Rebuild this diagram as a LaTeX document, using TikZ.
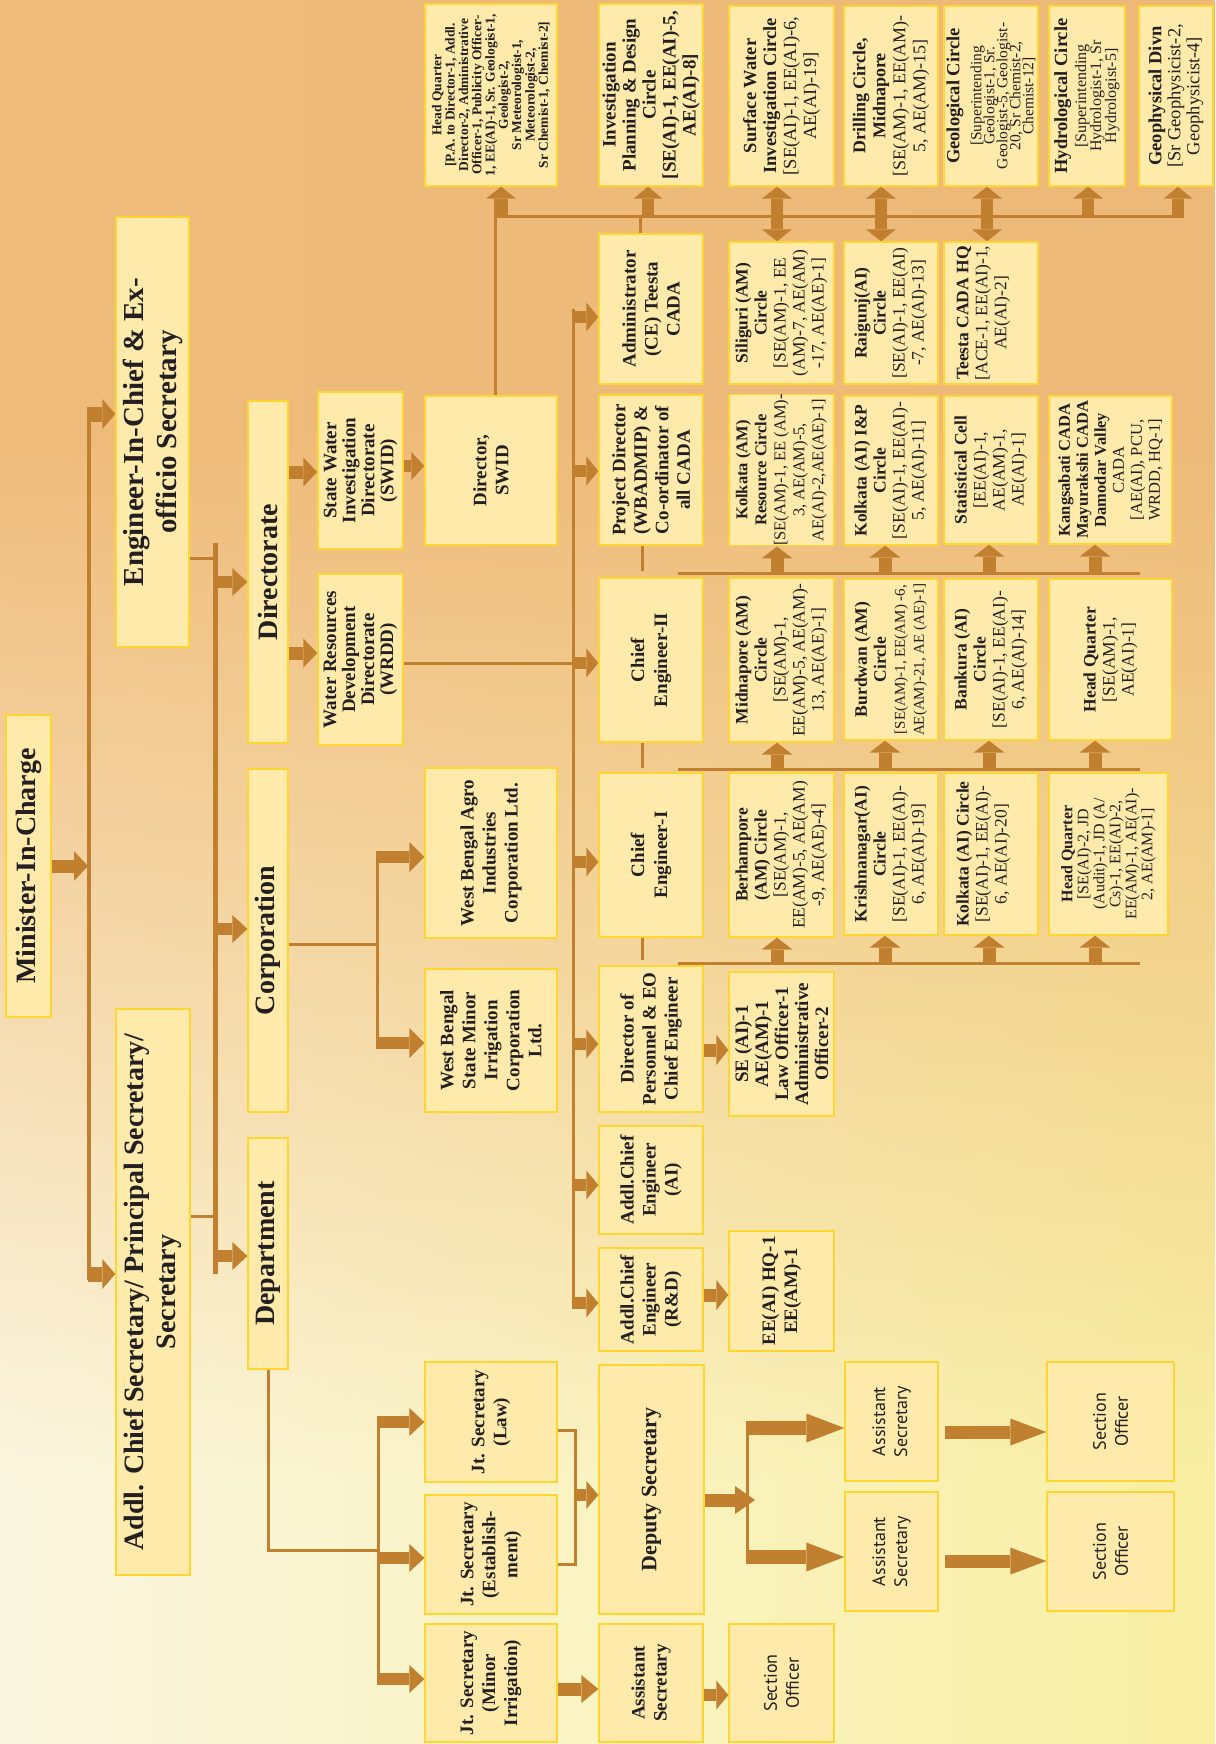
\documentclass[tikz,border=0pt]{standalone}
\usepackage{fontspec}
\setmainfont{Liberation Serif}
\newfontfamily\ptsans{PT Sans}
\usetikzlibrary{arrows.meta,shadings}
\definecolor{bgTL}{RGB}{239,187,122}
\definecolor{bgTR}{RGB}{237,185,120}
\definecolor{bgBL}{RGB}{251,246,224}
\definecolor{bgBR}{RGB}{248,239,162}
\definecolor{boxc}{RGB}{254,234,170}
\definecolor{bord}{RGB}{253,214,50}
\definecolor{arr}{RGB}{193,127,48}
\definecolor{txt}{RGB}{35,31,32}
\newcommand\tb[1]{\textbf{#1}}
\newcommand\fs[2]{{\fontsize{#1}{#1}\selectfont #2}}
\newcommand\bx[7][]{\node[obox,#1,minimum width={#5pt-#3pt},minimum height={#4pt-#2pt}] (#6) at ({(#2+#4)/2},{(#3+#5)/2}) {#7};}
\begin{document}
\lineskiplimit=-100pt
\begin{tikzpicture}[x=1pt,y=-1pt,
  obox/.style={draw=bord, fill=boxc, line width=1.3pt, rotate=90, inner sep=0pt, align=center, text=txt},
  fbig/.style={font=\fontsize{28}{32}\selectfont\bfseries},
  fmed/.style={font=\fontsize{19}{22}\selectfont\bfseries},
  fcirc/.style={font=\fontsize{17.5}{19}\selectfont},
  fsans/.style={font=\ptsans\fontsize{18}{22}\selectfont},
  cline/.style={draw=arr, line width=3pt},
  barrow/.style n args={3}{draw=arr, line width=#1, arrows={-Triangle[width=#2,length=#3,line width=0pt]}},
  darrow/.style n args={3}{draw=arr, line width=#1, arrows={Triangle[width=#2,length=#3,line width=0pt]-Triangle[width=#2,length=#3,line width=0pt]}},
]
\useasboundingbox (0,0) rectangle (1215,1744);
% background
\shade[left color=bgTL, right color=bgTR] (0,0) rectangle (1215,430);
\shade[upper left=bgTL, upper right=bgTR, lower left=bgBL, lower right=bgBR] (0,430) rectangle (1215,1480);
\shade[left color=bgBL, right color=bgBR] (0,1480) rectangle (1215,1744);

% ---------- top levels
\bx[fbig]{6}{715}{51}{1017}{min}{Minister-In-Charge}
\bx[fbig,font=\fontsize{29}{33}\selectfont\bfseries]{116}{217}{189}{647}{eic}{Engineer-In-Chief \& Ex-\\officio Secretary}
\bx[fbig]{116}{1009}{190}{1575}{acs}{Addl. Chief Secretary/ Principal Secretary/\\Secretary}
\bx[fbig]{248}{401}{288}{743}{dte}{Directorate}
\bx[fbig]{248}{769}{288}{1112}{corp}{Corporation}
\bx[fbig]{248}{1138}{288}{1369}{dept}{Department}

% ---------- second level
\bx[fmed,font=\fontsize{19}{19}\selectfont\bfseries]{318}{392}{403}{549}{swid}{State Water\\Investigation\\Directorate\\(SWID)}
\bx[fmed,font=\fontsize{19}{19}\selectfont\bfseries]{318}{574}{403}{745}{wrdd}{Water Resources\\Development\\Directorate\\(WRDD)}
\bx[fmed]{425}{396}{557}{545}{dswid}{Director,\\SWID}
\bx[fmed]{425}{768}{557}{938}{agro}{West Bengal Agro\\Industries\\Corporation Ltd.}
\bx[fmed]{425}{969}{557}{1112}{smi}{West Bengal\\State Minor\\Irrigation\\Corporation\\Ltd.}
\bx[fmed]{425}{1362}{557}{1482}{jlaw}{Jt. Secretary\\(Law)}
\bx[fmed]{425}{1495}{557}{1614}{jest}{Jt. Secretary\\(Establish-\\ment)}
\bx[fmed]{425}{1624}{557}{1742}{jmi}{Jt. Secretary\\(Minor\\Irrigation)}

% ---------- top row
\bx[font=\fontsize{13.5}{13.3}\selectfont\bfseries]{425}{4}{557}{186}{hq}{Head Quarter\\{[}P.A. to Director-1, Addl.\\Director-2, Administrative\\Officer-1, Publicity Officer-\\1, EE(AI)-1, Sr. Geologist-1,\\Geologist-2,\\Sr Meteorologist-1,\\Meteorologist-2,\\Sr Chemist-1, Chemist-2{]}}
\bx[fmed,font=\fontsize{19}{20}\selectfont\bfseries]{599}{4}{703}{186}{ipd}{Investigation\\Planning \& Design\\Circle\\{[}SE(AI)-1, EE(AI)-5,\\AE(AI)-8{]}}
\bx[fcirc,font=\fontsize{18.5}{20}\selectfont]{729}{6}{834}{186}{swic}{\tb{Surface Water}\\\tb{Investigation Circle}\\{[}SE(AI)-1, EE(AI)-6,\\AE(AI)-19{]}}
\bx[fcirc,font=\fontsize{18}{20}\selectfont]{844}{6}{938}{186}{drl}{\tb{Drilling Circle,}\\\tb{Midnapore}\\{[}SE(AM)-1, EE(AM)-\\5, AE(AM)-15{]}}
\bx[fcirc,font=\fontsize{15.5}{13}\selectfont]{944}{6}{1038}{186}{geo}{\fs{18.5}{\tb{Geological Circle}}\\[9pt]{[}Superintending\\Geologist-1, Sr.\\Geologist-5, Geologist-\\20, Sr Chemist-2,\\Chemist-12{]}}
\bx[fcirc,font=\fontsize{16}{15}\selectfont]{1049}{6}{1125}{186}{hyd}{\fs{18.5}{\tb{Hydrological Circle}}\\[4pt]{[}Superintending\\Hydrologist-1, Sr\\Hydrologist-5{]}}
\bx[fcirc,font=\fontsize{18.5}{19}\selectfont]{1139}{6}{1213}{186}{gph}{\tb{Geophysical Divn}\\{[}Sr Geophysicist-2,\\Geophysicist-4{]}}

% ---------- second row
\bx[fmed]{599}{234}{703}{384}{adm}{Administrator\\(CE) Teesta\\CADA}
\bx[fcirc]{729}{242}{834}{384}{sil}{\tb{Siliguri (AM)}\\\tb{Circle}\\{[}SE(AM)-1, EE\\(AM)-7, AE(AM)\\-17, AE(AE)-1{]}}
\bx[fcirc]{844}{242}{938}{384}{rai}{\tb{Raigunj(AI)}\\\tb{Circle}\\{[}SE(AI)-1, EE(AI)\\-7, AE(AI)-13{]}}
\bx[fcirc]{944}{242}{1038}{384}{tch}{\tb{Teesta CADA HQ}\\{[}ACE-1, EE(AI)-1,\\AE(AI)-2{]}\\{}}

% ---------- third row
\bx[fmed,font=\fontsize{19}{21.5}\selectfont\bfseries]{599}{395}{703}{545}{pd}{Project Director\\(WBADMIP) \&\\Co-ordinator of\\all CADA}
\bx[fcirc,font=\fontsize{16.5}{19}\selectfont]{729}{395}{834}{545}{kam}{\tb{Kolkata (AM)}\\\tb{Resource Circle}\\{[}SE(AM)-1, EE (AM)-\\3, AE(AM)-5,\\AE(AI)-2,AE(AE)-1{]}}
\bx[fcirc]{844}{396}{938}{545}{kai}{\tb{Kolkata (AI) I\&P}\\\tb{Circle}\\{[}SE(AI)-1, EE(AI)-\\5, AE(AI)-11{]}}
\bx[fcirc]{944}{396}{1038}{544}{stat}{\tb{Statistical Cell}\\{[}EE(AI)-1,\\AE(AM)-1,\\AE(AI)-1{]}}
\bx[fcirc,font=\fontsize{16.5}{18}\selectfont]{1049}{396}{1172}{544}{kmd}{\tb{Kangsabati CADA}\\\tb{Mayurakshi CADA}\\\tb{Damodar Valley}\\CADA\\{[}AE(AI), PCU,\\WRDD, HQ-1{]}}

% ---------- fourth row
\bx[fmed,font=\fontsize{19}{23}\selectfont\bfseries]{599}{578}{703}{742}{ce2}{Chief\\Engineer-II}
\bx[fcirc]{729}{578}{834}{742}{mid}{\tb{Midnapore (AM)}\\\tb{Circle}\\{[}SE(AM)-1,\\EE(AM)-5, AE(AM)-\\13, AE(AE)-1{]}}
\bx[fcirc]{844}{579}{938}{740}{bur}{\tb{Burdwan (AM)}\\\tb{Circle}\\\fs{15}{{[}SE(AM)-1, EE(AM) -6,}\\\fs{15}{AE(AM)-21, AE (AE)-1{]}}}
\bx[fcirc]{944}{579}{1038}{740}{ban}{\tb{Bankura (AI)}\\\tb{Circle}\\{[}SE(AI)-1, EE(AI)-\\6, AE(AI)-14{]}}
\bx[fcirc]{1049}{579}{1172}{740}{hqf}{\tb{Head Quarter}\\{[}SE(AM)-1,\\AE(AI)-1{]}}

% ---------- fifth row
\bx[fmed,font=\fontsize{19}{23}\selectfont\bfseries]{599}{773}{703}{937}{ce1}{Chief\\Engineer-I}
\bx[fcirc]{729}{773}{834}{937}{ber}{\tb{Berhampore}\\\tb{(AM) Circle}\\{[}SE(AM)-1,\\EE(AM)-5, AE(AM)\\-9, AE(AE)-4{]}}
\bx[fcirc]{844}{773}{938}{935}{kri}{\tb{Krishnanagar(AI)}\\\tb{Circle}\\{[}SE(AI)-1, EE(AI)-\\6, AE(AI)-19{]}}
\bx[fcirc]{944}{773}{1038}{935}{kac}{\tb{Kolkata (AI) Circle}\\{[}SE(AI)-1, EE(AI)-\\6, AE(AI)-20{]}\\{}}
\bx[fcirc,font=\fontsize{16}{16}\selectfont]{1049}{773}{1168}{935}{hqv}{\tb{Head Quarter}\\{[}SE(AI)-2, JD\\(Audit)-1, JD (A/\\Cs)-1, EE(AI)-2,\\EE(AM)-1, AE(AI)-\\2, AE(AM)-1{]}}

% ---------- lower CE column
\bx[fmed]{599}{966}{703}{1112}{dp}{Director of\\Personnel \& EO\\Chief Engineer}
\bx[fmed,font=\fontsize{19}{20}\selectfont\bfseries]{729}{972}{834}{1116}{se}{SE (AI)-1\\AE(AM)-1\\Law Officer-1\\Administrative\\Officer-2}
\bx[fmed]{599}{1126}{703}{1234}{ace}{Addl.Chief\\Engineer\\(AI)}
\bx[fmed]{599}{1248}{703}{1351}{rd}{Addl.Chief\\Engineer\\(R\&D)}
\bx[fmed]{729}{1231}{834}{1351}{ee}{EE(AI) HQ-1\\EE(AM)-1}

% ---------- secretariat
\bx[fmed,font=\fontsize{22}{22}\selectfont\bfseries]{599}{1365}{704}{1614}{dep}{Deputy Secretary}
\bx[fmed]{599}{1624}{703}{1742}{aso}{Assistant\\Secretary}
\bx[fsans]{729}{1624}{834}{1742}{soo}{Section\\Officer}
\bx[fsans]{845}{1362}{938}{1481}{asa}{Assistant\\Secretary}
\bx[fsans]{845}{1492}{938}{1611}{asb}{Assistant\\Secretary}
\bx[fsans]{1047}{1362}{1174}{1481}{soa}{Section\\Officer}
\bx[fsans]{1047}{1492}{1174}{1611}{sob}{Section\\Officer}

% ================= connectors
% Minister and first trunk
\draw[cline,line width=3.5pt] (89,407) -- (89,1280);
\draw[barrow={13pt}{30pt}{14pt}] (min.south) -- (min.south -| 88,0);
\draw[barrow={15pt}{30pt}{13pt}] (88,414) -- (eic.north |- 0,414);
\draw[barrow={15pt}{30pt}{13pt}] (88,1274) -- (acs.north |- 0,1274);
% second trunk
\draw[cline] (eic.south |- 0,558) -- (214,558);
\draw[cline] (acs.south |- 0,1216) -- (214,1216);
\draw[cline,line width=5pt] (215,543) -- (215,1274);
\draw[barrow={12pt}{28pt}{15pt}] (216,582) -- (dte.north |- 0,582);
\draw[barrow={12pt}{28pt}{15pt}] (216,929) -- (corp.north |- 0,929);
\draw[barrow={12pt}{28pt}{15pt}] (216,1256) -- (dept.north |- 0,1256);
% directorate
\draw[barrow={13pt}{29pt}{14pt}] (dte.south |- 0,472) -- (swid.north |- 0,472);
\draw[barrow={13pt}{29pt}{14pt}] (dte.south |- 0,653) -- (wrdd.north |- 0,653);
\draw[barrow={12pt}{28pt}{13pt}] (swid.south |- 0,466) -- (dswid.north |- 0,466);
% corporation
\draw[cline] (corp.south |- 0,944) -- (377,944);
\draw[cline] (377,851) -- (377,1049);
\draw[barrow={12pt}{30pt}{15pt}] (376,857) -- (agro.north |- 0,857);
\draw[barrow={12pt}{30pt}{15pt}] (376,1043) -- (smi.north |- 0,1043);
% department
\draw[cline] (dept.west) |- (378,1550);
\draw[cline] (378,1416) -- (378,1685);
\draw[barrow={12pt}{28pt}{15pt}] (377,1422) -- (jlaw.north |- 0,1422);
\draw[barrow={12pt}{28pt}{15pt}] (377,1558) -- (jest.north |- 0,1558);
\draw[barrow={12pt}{28pt}{15pt}] (377,1679) -- (jmi.north |- 0,1679);
% joint secretaries to deputy secretary
\draw[cline] (jlaw.south |- 0,1430) -| (575,1564) -- (jest.south |- 0,1564);
\draw[barrow={12pt}{28pt}{12pt}] (575,1495) -- (dep.north |- 0,1495);
\draw[barrow={13pt}{28pt}{20pt}] (dep.south |- 0,1500) -- (755,1500);
\draw[cline] (747,1421) -- (747,1564);
\draw[barrow={14pt}{29pt}{38pt}] (746,1428) -- (asa.north |- 0,1428);
\draw[barrow={14pt}{29pt}{38pt}] (746,1557) -- (asb.north |- 0,1557);
\draw[barrow={13pt}{27pt}{36pt}] (945,1432) -- (soa.north |- 0,1432);
\draw[barrow={13pt}{27pt}{36pt}] (945,1561) -- (sob.north |- 0,1561);
\draw[barrow={13pt}{28pt}{17pt}] (jmi.south |- 0,1689) -- (aso.north |- 0,1689);
\draw[barrow={12pt}{29pt}{12pt}] (aso.south |- 0,1695) -- (soo.north |- 0,1695);
% chief engineer bus
\draw[cline] (wrdd.south |- 0,663) -- (573,663);
\draw[cline] (573,309) -- (573,1309);
\draw[barrow={12pt}{29pt}{12pt}] (572,317) -- (adm.north |- 0,317);
\draw[barrow={12pt}{29pt}{12pt}] (572,471) -- (pd.north |- 0,471);
\draw[barrow={12pt}{29pt}{12pt}] (572,663) -- (ce2.north |- 0,663);
\draw[barrow={12pt}{29pt}{12pt}] (572,862) -- (ce1.north |- 0,862);
\draw[barrow={12pt}{29pt}{12pt}] (572,1044) -- (dp.north |- 0,1044);
\draw[barrow={12pt}{29pt}{12pt}] (572,1185) -- (ace.north |- 0,1185);
\draw[barrow={12pt}{29pt}{12pt}] (572,1303) -- (rd.north |- 0,1303);
\draw[barrow={13pt}{30pt}{12pt}] (dp.south |- 0,1050) -- (se.north |- 0,1050);
\draw[barrow={13pt}{30pt}{12pt}] (rd.south |- 0,1295) -- (ee.north |- 0,1295);
% stubs below CE boxes
\draw[cline] (pd.west -| 642,0) -- (642,571);
\draw[cline] (ce2.west -| 642,0) -- (642,768);
\draw[cline] (ce1.west -| 642,0) -- (642,960);
% circle rows
\draw[cline] (678,573) -- (1140,573);
\draw[cline] (678,769) -- (1140,769);
\draw[cline] (678,963) -- (1140,963);
\draw[barrow={13pt}{31pt}{12pt}] (777,572) -- (kam.west -| 777,0);
\draw[barrow={13pt}{31pt}{12pt}] (885,572) -- (kai.west -| 885,0);
\draw[barrow={13pt}{31pt}{12pt}] (989,572) -- (stat.west -| 989,0);
\draw[barrow={13pt}{31pt}{12pt}] (1095,572) -- (kmd.west -| 1095,0);
\draw[barrow={13pt}{31pt}{12pt}] (777,768) -- (mid.west -| 777,0);
\draw[barrow={13pt}{31pt}{12pt}] (885,768) -- (bur.west -| 885,0);
\draw[barrow={13pt}{31pt}{12pt}] (989,768) -- (ban.west -| 989,0);
\draw[barrow={13pt}{31pt}{12pt}] (1095,768) -- (hqf.west -| 1095,0);
\draw[barrow={13pt}{31pt}{12pt}] (777,962) -- (ber.west -| 777,0);
\draw[barrow={13pt}{31pt}{12pt}] (885,962) -- (kri.west -| 885,0);
\draw[barrow={13pt}{31pt}{12pt}] (989,962) -- (kac.west -| 989,0);
\draw[barrow={13pt}{31pt}{12pt}] (1095,962) -- (hqv.west -| 1095,0);
% top connections
\draw[cline] (dswid.east -| 495,0) |- (1179,217);
\draw[cline] (adm.east -| 640,0) -- (640,217);
\draw[barrow={14pt}{30pt}{12pt}] (501,218) -- (hq.west -| 501,0);
\draw[barrow={12pt}{29pt}{12pt}] (648,218) -- (ipd.west -| 648,0);
\draw[darrow={12pt}{30pt}{12pt}] (swic.west -| 777,0) -- (sil.east -| 777,0);
\draw[darrow={12pt}{30pt}{12pt}] (drl.west -| 881,0) -- (rai.east -| 881,0);
\draw[darrow={12pt}{30pt}{12pt}] (geo.west -| 987,0) -- (tch.east -| 987,0);
\draw[barrow={12pt}{30pt}{12pt}] (1088,218) -- (hyd.west -| 1088,0);
\draw[barrow={12pt}{29pt}{12pt}] (1178,218) -- (gph.west -| 1178,0);
\end{tikzpicture}
\end{document}
